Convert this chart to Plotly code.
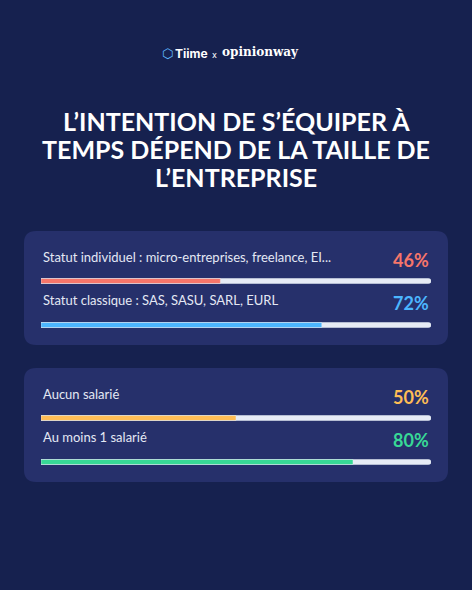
import plotly.graph_objects as go

W, H = 472, 590
BG = "#16214f"
CARD = "#26306b"
TRACK = "#e6ebf5"

labels = ["Statut individuel : micro-entreprises, freelance, EI...",
          "Statut classique : SAS, SASU, SARL, EURL",
          "Aucun salarié",
          "Au moins 1 salarié"]
values = [46, 72, 50, 80]
colors = ["#f7766a", "#4cb6ff", "#ffbd55", "#38d996"]
bar_y = [281, 325, 418, 462]
label_y = [257, 300, 394, 437]

X0, X1 = 41, 431

fig = go.Figure()

# tracks
fig.add_trace(go.Bar(
    x=[100] * 4, y=bar_y, orientation="h", width=5,
    marker=dict(color=TRACK, cornerradius=3), hoverinfo="skip",
))
# values
fig.add_trace(go.Bar(
    x=values, y=bar_y, orientation="h", width=5,
    marker=dict(color=colors, cornerradius=3), hoverinfo="skip",
))


def px(x):
    return x / W


def card(x0, y0, x1, y1, r=12):
    a, b, ar, br = px(x0), px(x1), px(x0 + r), px(x1 - r)
    p = (f"M{ar},{y0} L{br},{y0} Q{b},{y0} {b},{y0+r} "
         f"L{b},{y1-r} Q{b},{y1} {br},{y1} L{ar},{y1} "
         f"Q{a},{y1} {a},{y1-r} L{a},{y0+r} Q{a},{y0} {ar},{y0} Z")
    return dict(type="path", path=p, xref="paper", yref="y",
                fillcolor=CARD, line_width=0, layer="below")


shapes = [card(24, 231, 448, 345), card(24, 368, 448, 482)]

ann = []
for lab, v, c, ly in zip(labels, values, colors, label_y):
    ann.append(dict(x=px(X0), y=ly, xref="paper", yref="y", text=lab, showarrow=False,
                    xanchor="left", yanchor="middle",
                    font=dict(family="Lato", size=13, color="#e4e8f4")))
    ann.append(dict(x=px(X1), y=ly + 3, xref="paper", yref="y", text=f"<b>{v}%</b>",
                    showarrow=False, xanchor="right", yanchor="middle",
                    font=dict(family="Lato", size=18, color=c)))

title = ["L’INTENTION DE S’ÉQUIPER À", "TEMPS DÉPEND DE LA TAILLE DE", "L’ENTREPRISE"]
for i, t in enumerate(title):
    ann.append(dict(x=0.5, y=121 + 28 * i, xref="paper", yref="y", text=f"<b>{t}</b>",
                    showarrow=False, xanchor="center", yanchor="middle",
                    font=dict(family="Lato", size=25, color="white")))

# header logo
logo = [(160, 53, "⬡", "DejaVu Sans", 13, "#5fb8ff", "left"),
        (173, 53, "<b>Tiime</b>", "Inter", 12, "white", "left"),
        (214, 54, "x", "Inter", 9, "white", "center"),
        (220, 52, "<b>opinionway</b>", "DejaVu Serif", 12, "white", "left")]
for x, y, t, f, s, c, xa in logo:
    ann.append(dict(x=px(x), y=y, xref="paper", yref="y", text=t, showarrow=False,
                    xanchor=xa, yanchor="middle", font=dict(family=f, size=s, color=c)))

fig.update_layout(
    width=W, height=H, margin=dict(l=0, r=0, t=0, b=0),
    paper_bgcolor=BG, plot_bgcolor=BG, showlegend=False,
    barmode="overlay", shapes=shapes, annotations=ann,
    xaxis=dict(range=[0, 100], domain=[px(X0), px(X1)], visible=False, fixedrange=True),
    yaxis=dict(range=[H, 0], domain=[0, 1], visible=False, fixedrange=True),
)

fig.write_html("out.html", config={"displayModeBar": False},
               post_script="document.body.style.margin='0';")
